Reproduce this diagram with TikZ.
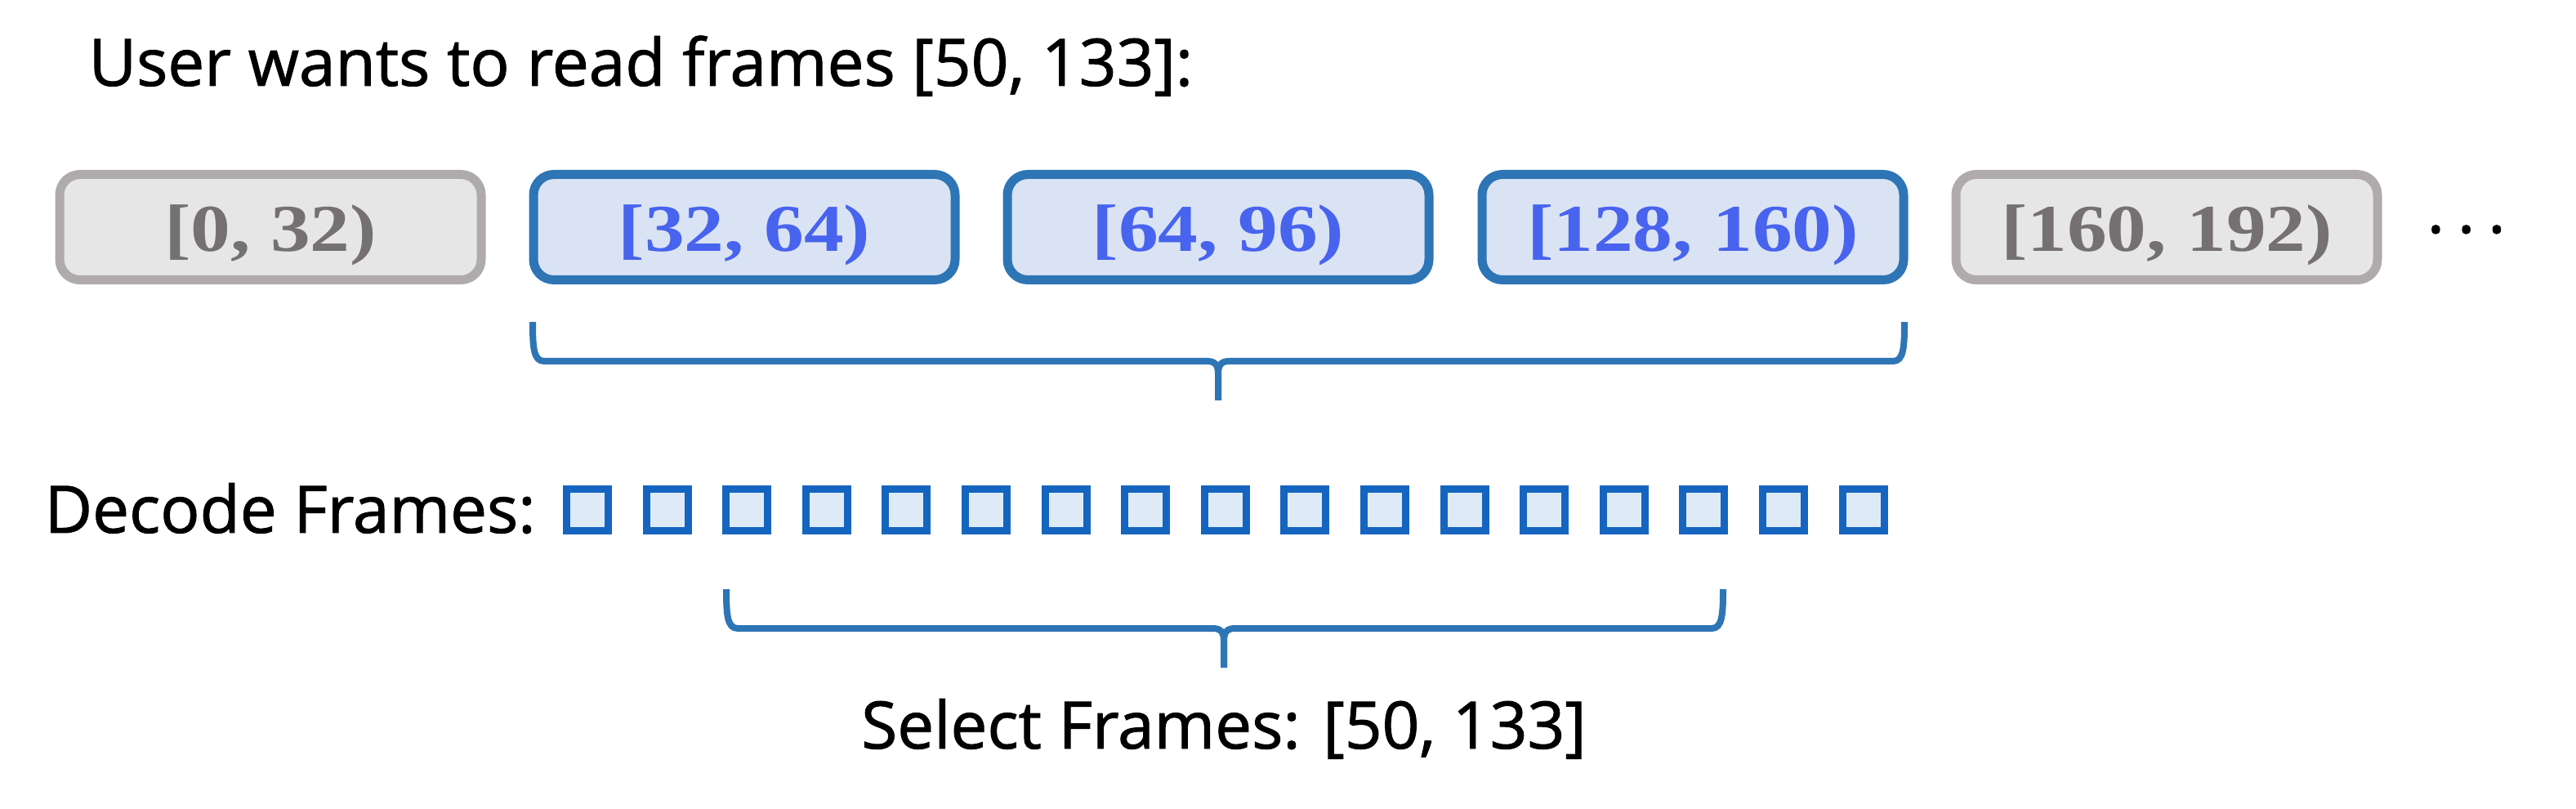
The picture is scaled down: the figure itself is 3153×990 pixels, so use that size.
\documentclass[tikz,border=0pt]{standalone}
\usepackage{fontspec}
\usepackage{graphicx}
\setmainfont{Liberation Serif}
\newfontface\hand[FakeBold=1.2]{Open Sans}
\definecolor{segblue}{HTML}{2E75B6}
\definecolor{segbluefill}{HTML}{DAE3F3}
\definecolor{segbluetext}{HTML}{4863EE}
\definecolor{seggrey}{HTML}{AFABAB}
\definecolor{seggreyfill}{HTML}{E7E6E6}
\definecolor{seggreytext}{HTML}{767171}
\definecolor{frameblue}{HTML}{1565C0}
\definecolor{framefill}{HTML}{DEEBF7}
\definecolor{braceblue}{HTML}{2E75B6}
\tikzset{
  seg/.style={rounded corners=2.5mm, line width=1.1mm, minimum width=51.6mm,
    minimum height=12.9mm, inner sep=0, text height=6.5mm, text depth=0.5mm,
    font=\fontsize{23.3}{28}\selectfont\bfseries},
  blueseg/.style={seg, draw=segblue, fill=segbluefill, text=segbluetext},
  greyseg/.style={seg, draw=seggrey, fill=seggreyfill, text=seggreytext},
  framebox/.style={draw=frameblue, fill=framefill, line width=0.9mm,
    minimum size=5.1mm, inner sep=0},
  brace/.style={draw=braceblue, line width=0.8mm},
  label/.style={font=\hand\fontsize{22.8}{27}\selectfont, inner sep=0}
}
\newcommand{\wide}[1]{\scalebox{1.19}[1]{#1}}
\begin{document}
\begin{tikzpicture}[x=0.1mm,y=-0.1mm]
\useasboundingbox (0,0) rectangle (3153,990);
% title
\node[label, anchor=base west] (title) at (108,105) {User wants to read frames [50, 133]:};
% segments
\node[greyseg] (s0) at (331,278) {\wide{[0, 32)}};
\node[blueseg] (s1) at (911,278) {\wide{[32, 64)}};
\node[blueseg] (s2) at (1491,278) {\wide{[64, 96)}};
\node[blueseg] (s3) at (2072,278) {\wide{[128, 160)}};
\node[greyseg] (s4) at (2652,278) {\wide{[160, 192)}};
\node[label, anchor=base west] (dots) at (2970,285) {.\kern1.6mm.\kern1.6mm.};
% brace 1
\coordinate (b1tip) at (1491,490);
\draw[brace] (652,394) .. controls (652,425) and (653,442) .. (666,442) -- (1477,442)
  .. controls (1487,442) and (1491,446) .. (1491,458) -- (b1tip);
\draw[brace] (2331,394) .. controls (2331,425) and (2330,442) .. (2317,442) -- (1505,442)
  .. controls (1495,442) and (1491,446) .. (1491,458) -- (b1tip);
% decode frames
\node[label, anchor=base west] (decode) at (54,652) {Decode Frames:};
\foreach \i in {0,...,16}{
  \node[framebox] (f\i) at ({719+97.6*\i},624) {};
}
% brace 2
\coordinate (b2tip) at (1498,817);
\draw[brace] (889,721) .. controls (889,752) and (890,769) .. (903,769) -- (1484,769)
  .. controls (1494,769) and (1498,773) .. (1498,785) -- (b2tip);
\draw[brace] (2109,721) .. controls (2109,752) and (2108,769) .. (2095,769) -- (1512,769)
  .. controls (1502,769) and (1498,773) .. (1498,785) -- (b2tip);
% select
\node[label, anchor=base] (select) at (1498,916) {Select Frames: [50, 133]};
\end{tikzpicture}
\end{document}
